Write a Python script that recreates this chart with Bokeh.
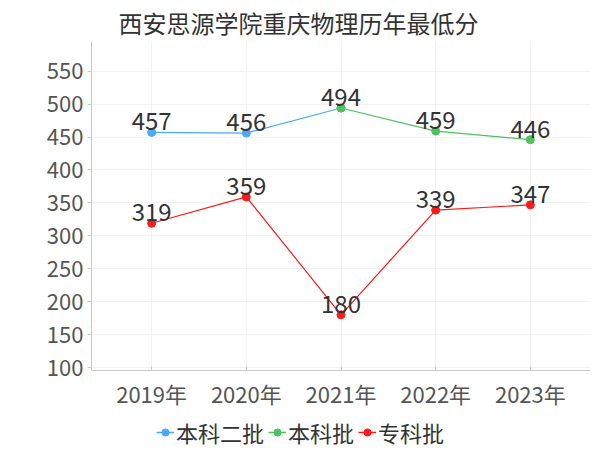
from bokeh.plotting import figure
from bokeh.layouts import column
from bokeh.models import (ColumnDataSource, LabelSet, Legend, LegendItem, FixedTicker, Range1d, Title)
from bokeh.core.properties import value
from bokeh.embed import file_html
from bokeh.resources import INLINE

years = ["2019年", "2020年", "2021年", "2022年", "2023年"]
b2_idx = [0, 1, 2]
b2_vals = [457, 456, 494]
b_idx = [2, 3, 4]
b_vals = [494, 459, 446]
zk_idx = [0, 1, 2, 3, 4]
zk_vals = [319, 359, 180, 339, 347]
y_ticks = [100, 150, 200, 250, 300, 350, 400, 450, 500, 550]
series_names = ["本科二批", "本科批", "专科批"]

FONT = "Noto Sans CJK SC"
blue = "#4ba8fa"
green = "#4cc35c"
red = "#ff1a1a"
colors = [blue, green, red]

p = figure(frame_width=499, frame_height=329, output_backend="svg", toolbar_location=None,
           x_range=Range1d(-0.635, 4.635), y_range=Range1d(95.5, 595),
           min_border_left=91, min_border_right=2, min_border_top=34, min_border_bottom=46)
p.outline_line_color = None
p.background_fill_color = "white"
p.border_fill_color = "white"

t = Title(text="西安思源学院重庆物理历年最低分", align="left", offset=27, standoff=4,
          text_font=FONT, text_font_size="24px", text_color="#333333", text_font_style="normal")
p.add_layout(t, "above")

p.xaxis.ticker = FixedTicker(ticks=list(range(len(years))))
p.xaxis.major_label_overrides = {i: y for i, y in enumerate(years)}
p.yaxis.ticker = FixedTicker(ticks=y_ticks)
for ax in (p.xaxis, p.yaxis):
    ax.axis_line_color = "#c8c8c8"
    ax.major_tick_line_color = "#c8c8c8"
    ax.minor_tick_line_color = None
    ax.major_label_text_font = FONT
    ax.major_label_text_font_size = "22px"
    ax.major_label_text_color = "#555555"
p.xaxis.major_tick_in = 4
p.xaxis.major_tick_out = 0
p.xaxis.major_label_standoff = 6
p.yaxis.major_tick_in = 0
p.yaxis.major_tick_out = 4
p.yaxis.major_label_standoff = 4

p.xgrid.grid_line_color = "#f2f2f2"
p.ygrid.grid_line_color = "#f2f2f2"


def series(idx, vals, color, label_mask):
    src = ColumnDataSource(dict(x=idx, y=vals))
    r1 = p.line("x", "y", source=src, line_color=color, line_width=1.2)
    r2 = p.scatter("x", "y", source=src, size=8, fill_color=color, line_color=color)
    lx = [x for x, m in zip(idx, label_mask) if m]
    ly = [y for y, m in zip(vals, label_mask) if m]
    lsrc = ColumnDataSource(dict(x=lx, y=ly, t=[str(v) for v in ly]))
    lbl = LabelSet(x="x", y="y", text="t", source=lsrc, y_offset=2, text_align="center",
                   text_baseline="bottom", text_font=value(FONT), text_font_size="24px",
                   text_color="#333333")
    p.add_layout(lbl)
    return src


srcs = [series(b2_idx, b2_vals, blue, [True, True, False]),
        series(b_idx, b_vals, green, [True, True, True]),
        series(zk_idx, zk_vals, red, [True] * 5)]

# legend strip (shares the series data; its ranges keep the marks out of view)
lg = figure(width=592, height=34, output_backend="svg", toolbar_location=None,
            x_range=Range1d(100, 101), y_range=Range1d(0, 1),
            min_border_left=0, min_border_right=0, min_border_top=0, min_border_bottom=0,
            x_axis_type=None, y_axis_type=None)
lg.outline_line_color = None
lg.xgrid.visible = False
lg.ygrid.visible = False
items = []
for name, c, s in zip(series_names, colors, srcs):
    r1 = lg.line("x", "y", source=s, line_color=c, line_width=1.5)
    r2 = lg.scatter("x", "y", source=s, size=8, fill_color=c, line_color=c)
    items.append(LegendItem(label=name, renderers=[r1, r2]))
legend = Legend(items=items, orientation="horizontal", location=(65, 2),
                label_text_font=FONT, label_text_font_size="22px", label_text_color="#333333",
                glyph_width=18, glyph_height=20, spacing=4, padding=0, margin=0,
                label_standoff=2, border_line_color=None, background_fill_alpha=0)
lg.add_layout(legend, "center")

layout = column(p, lg, spacing=0)
open("out.html", "w").write(file_html(layout, INLINE))
